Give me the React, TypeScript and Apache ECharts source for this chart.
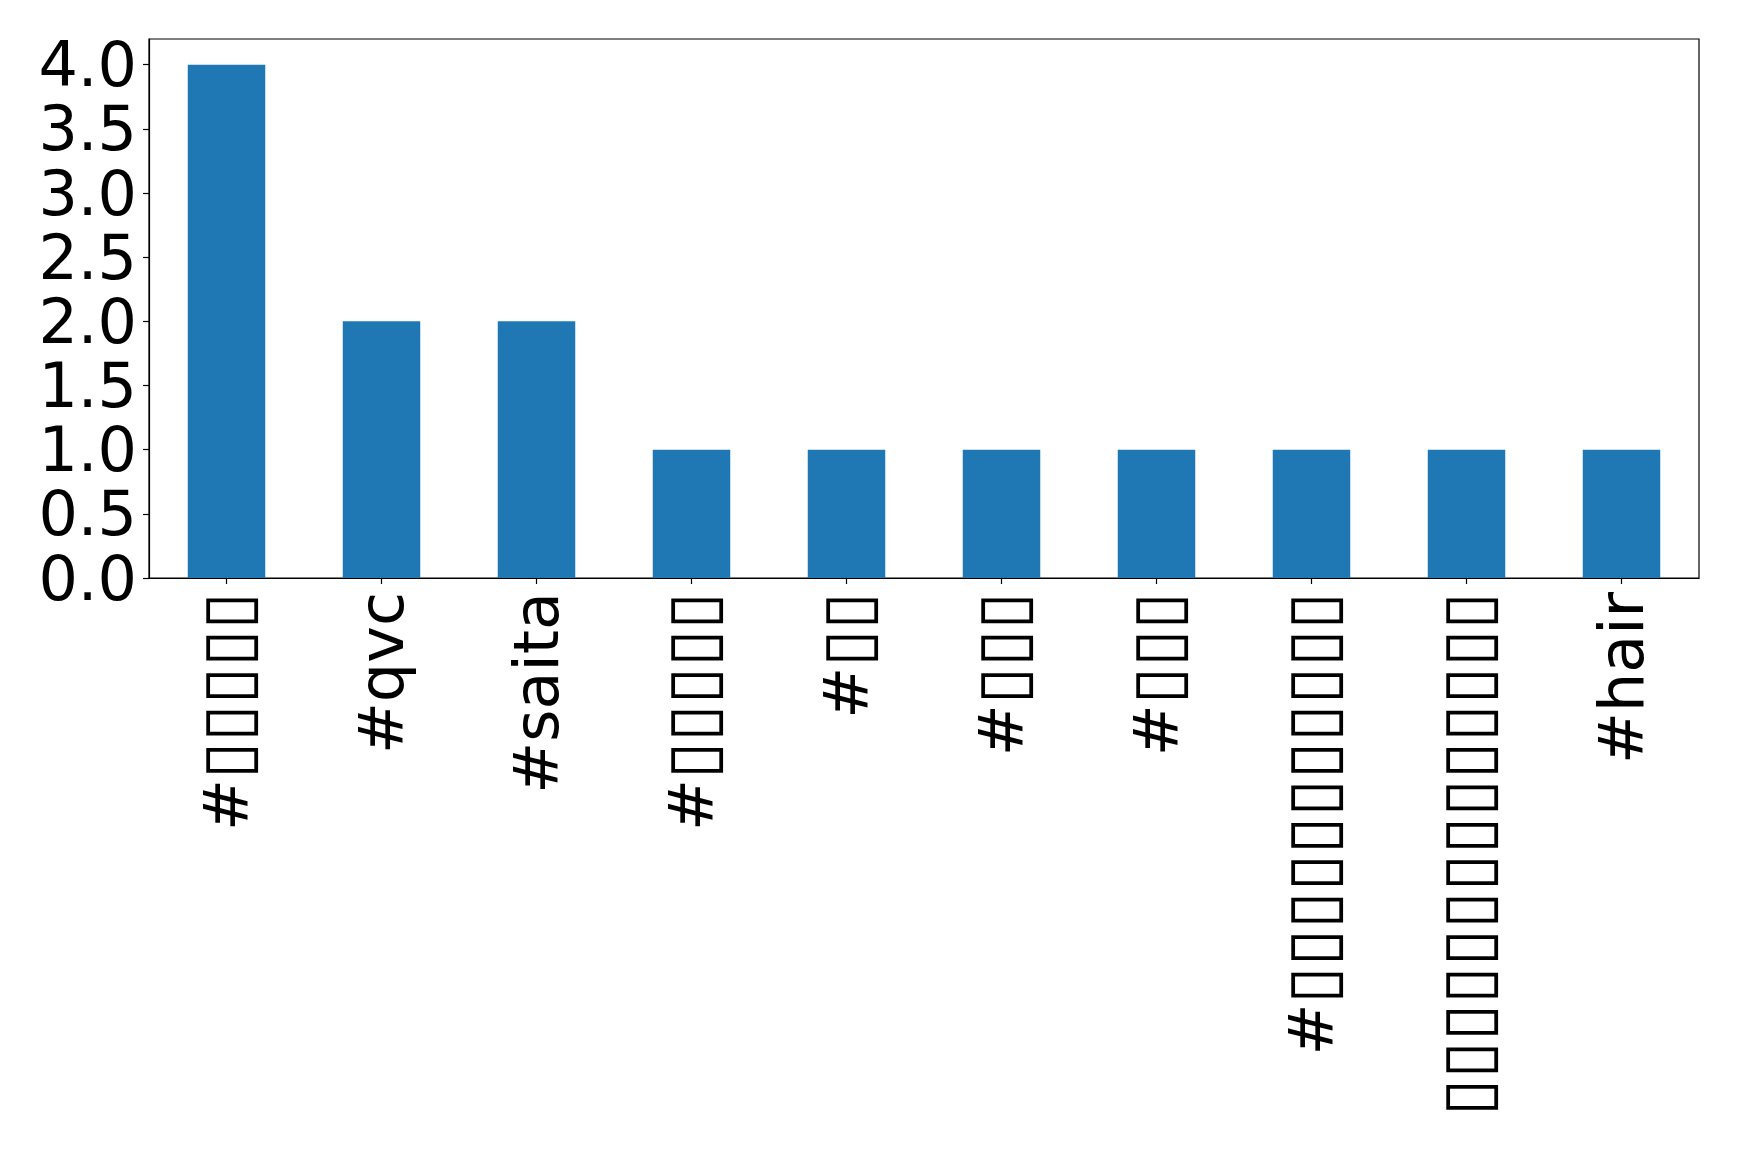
import React, { useEffect, useRef } from "react";
import * as echarts from "echarts";

const B = "\u25AF";
const categories: string[] = [
  "#" + B.repeat(5),
  "#qvc",
  "#saita",
  "#" + B.repeat(5),
  "#" + B.repeat(2),
  "#" + B.repeat(3),
  "#" + B.repeat(3),
  "#" + B.repeat(11),
  B.repeat(14),
  "#hair",
];
const counts: number[] = [4, 2, 2, 1, 1, 1, 1, 1, 1, 1];
const yTicks: number[] = [0, 0.5, 1, 1.5, 2, 2.5, 3, 3.5, 4];

function richLabel(s: string): string {
  let out = "";
  let run = "";
  let isBox: boolean | null = null;
  for (const ch of s) {
    const b = ch === B;
    if (isBox !== null && b !== isBox) {
      out += `{${isBox ? "b" : "t"}|${run}}`;
      run = "";
    }
    isBox = b;
    run += ch;
  }
  if (run) out += `{${isBox ? "b" : "t"}|${run}}`;
  return out;
}

export default function App() {
  const ref = useRef<HTMLDivElement>(null);
  useEffect(() => {
    if (!ref.current) return;
    const chart = echarts.init(ref.current, null, { renderer: "svg" });
    chart.setOption({
      animation: false,
      backgroundColor: "#ffffff",
      grid: {
        left: 149,
        top: 39,
        right: 40,
        bottom: 575,
        show: true,
        borderColor: "#000000",
        borderWidth: 1.2,
        containLabel: false,
      },
      xAxis: {
        type: "category",
        data: categories,
        axisLine: { show: true, lineStyle: { color: "#000", width: 1.2 } },
        axisTick: { show: true, alignWithLabel: true, length: 6, lineStyle: { color: "#000", width: 1.2 } },
        axisLabel: {
          rotate: 90,
          fontSize: 62,
          fontFamily: "DejaVu Sans",
          color: "#000",
          margin: 14,
          interval: 0,
          formatter: (v: string) => richLabel(v),
          rich: {
            t: { fontSize: 62, fontFamily: "DejaVu Sans", color: "#000", verticalAlign: "middle" },
            b: { fontSize: 68, fontFamily: "DejaVu Sans", color: "#000", verticalAlign: "middle" },
          },
        },
        splitLine: { show: false },
      },
      yAxis: {
        type: "value",
        min: 0,
        max: 4.2,
        axisLine: { show: true, lineStyle: { color: "#000", width: 1.2 } },
        axisTick: { show: true, length: 6, lineStyle: { color: "#000", width: 1.2 }, customValues: yTicks },
        axisLabel: {
          fontSize: 62,
          lineHeight: 58,
          fontFamily: "DejaVu Sans",
          color: "#000",
          margin: 12,
          customValues: yTicks,
          formatter: (v: number) => v.toFixed(1),
        },
        splitLine: { show: false },
      },
      series: [
        {
          type: "bar",
          data: counts,
          barWidth: "50%",
          itemStyle: { color: "#1f77b4" },
        },
      ],
    });
    return () => chart.dispose();
  }, []);
  return (
    <div
      ref={ref}
      style={{ position: "fixed", left: 0, top: 0, width: 1739, height: 1153, background: "#fff" }}
    />
  );
}
